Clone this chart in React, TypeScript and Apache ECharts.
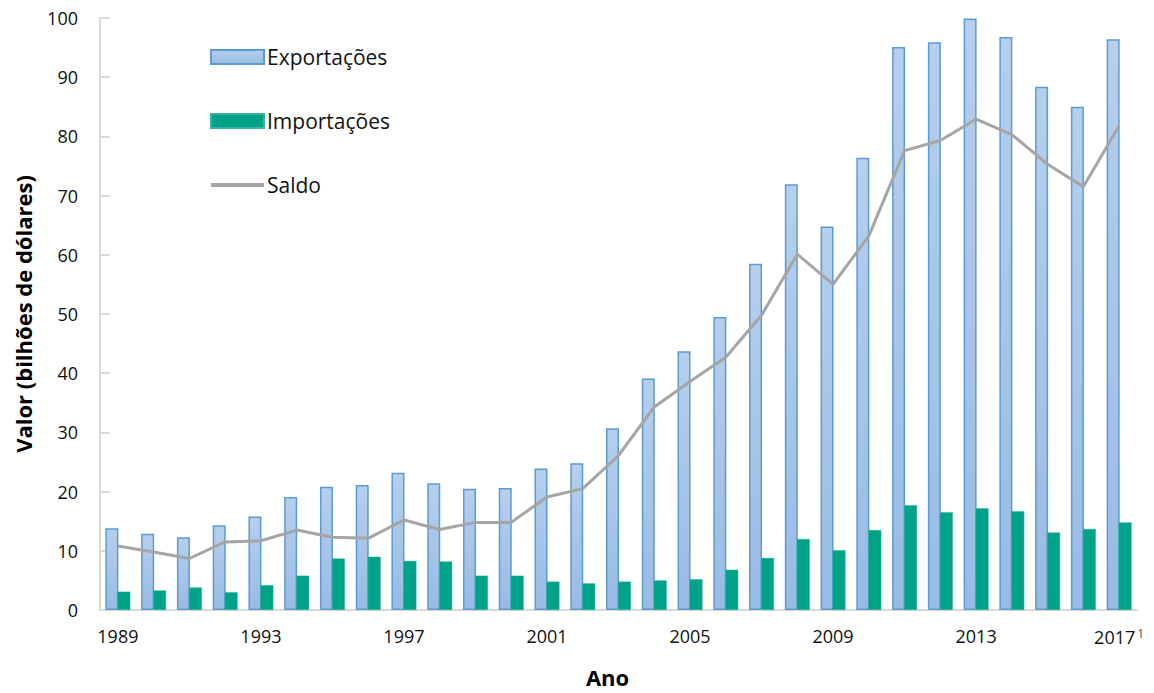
import React, { useEffect, useRef } from "react";
import * as echarts from "echarts";

const years = [
  "1989","1990","1991","1992","1993","1994","1995","1996","1997","1998",
  "1999","2000","2001","2002","2003","2004","2005","2006","2007","2008",
  "2009","2010","2011","2012","2013","2014","2015","2016","2017",
];
const exportacoes = [
  13.8, 12.9, 12.3, 14.3, 15.8, 19.1, 20.8, 21.1, 23.2, 21.4,
  20.5, 20.6, 23.9, 24.8, 30.7, 39.1, 43.7, 49.5, 58.5, 71.9,
  64.8, 76.4, 95.1, 95.9, 99.9, 96.8, 88.4, 85.0, 96.4,
];
const importacoes = [
  3.1, 3.3, 3.8, 3.0, 4.2, 5.8, 8.7, 9.0, 8.3, 8.2,
  5.8, 5.8, 4.8, 4.5, 4.8, 5.0, 5.2, 6.8, 8.8, 12.0,
  10.1, 13.5, 17.7, 16.5, 17.2, 16.7, 13.1, 13.7, 14.8,
];
const saldo = [
  10.8, 9.8, 8.7, 11.5, 11.7, 13.5, 12.3, 12.1, 15.2, 13.6,
  14.8, 14.8, 19.1, 20.5, 26.1, 34.3, 38.6, 42.7, 49.8, 60.1,
  55.0, 63.2, 77.6, 79.3, 82.9, 80.3, 75.3, 71.5, 81.8,
];
const yTicks = { min: 0, max: 100, interval: 10 };

const FONT = "'Open Sans', sans-serif";

export default function App() {
  const ref = useRef<HTMLDivElement>(null);
  useEffect(() => {
    document.body.style.margin = "0";
    const chart = echarts.init(ref.current!, undefined, { renderer: "svg" });
    chart.setOption({
      animation: false,
      textStyle: { fontFamily: FONT },
      grid: { left: 100, right: 17, top: 18, bottom: 79 },
      legend: {
        orient: "vertical",
        left: 209,
        top: 45,
        padding: 0,
        itemWidth: 53,
        itemHeight: 14,
        itemGap: 40,
        data: [
          { name: "Exportações", icon: "rect" },
          { name: "Importações", icon: "rect" },
          { name: "Saldo", itemStyle: { opacity: 0 }, lineStyle: { width: 4 } },
        ],
        textStyle: { fontSize: 21, color: "#111", fontFamily: FONT, lineHeight: 24, padding: [0, 0, 0, -2] },
      },
      xAxis: {
        type: "category",
        data: years,
        name: "Ano",
        nameLocation: "middle",
        nameGap: 56,
        nameTextStyle: { fontSize: 22, fontWeight: "bold", color: "#000", fontFamily: FONT, padding: [0, 22, 0, 0] },
        axisLine: { lineStyle: { color: "#d9d9d9", width: 2 } },
        axisTick: { show: false },
        axisLabel: {
          interval: 3,
          margin: 17,
          fontSize: 18,
          color: "#111",
          fontFamily: FONT,
          formatter: (v: string) => (v === "2017" ? "{a|" + v + "}{s|1}" : v),
          rich: {
            a: { fontSize: 18, color: "#111", fontFamily: FONT },
            s: { fontSize: 12, color: "#555", fontFamily: FONT, verticalAlign: "top", padding: [0, 0, 8, 2] },
          },
        },
      },
      yAxis: {
        type: "value",
        min: yTicks.min,
        max: yTicks.max,
        interval: yTicks.interval,
        name: "Valor (bilhões de dólares)",
        nameLocation: "middle",
        nameGap: 66,
        nameTextStyle: { fontSize: 22, fontWeight: "bold", color: "#000", fontFamily: FONT },
        axisLine: { show: true, lineStyle: { color: "#d9d9d9", width: 2 } },
        axisTick: { show: true, inside: true, length: 10, lineStyle: { color: "#d9d9d9", width: 2 } },
        splitLine: { show: false },
        axisLabel: { margin: 22, fontSize: 18, color: "#111", fontFamily: FONT },
      },
      series: [
        {
          name: "Exportações",
          type: "bar",
          data: exportacoes,
          barWidth: 13,
          barGap: "-8%",
          itemStyle: {
            color: new echarts.graphic.LinearGradient(0, 0, 0, 1, [
              { offset: 0, color: "#b6cfec" },
              { offset: 1, color: "#98bbe4" },
            ]),
            borderColor: "#5b9bd5",
            borderWidth: 1.5,
          },
        },
        {
          name: "Importações",
          type: "bar",
          data: importacoes,
          barWidth: 13,
          itemStyle: { color: "#00a388", borderColor: "#33b59f", borderWidth: 0.5 },
        },
        {
          name: "Saldo",
          type: "line",
          data: saldo,
          symbol: "none",
          lineStyle: { color: "#a5a5a5", width: 3 },
          itemStyle: { color: "#a5a5a5" },
        },
      ],
    });
    return () => chart.dispose();
  }, []);
  return <div ref={ref} style={{ width: 1154, height: 693 }} />;
}
